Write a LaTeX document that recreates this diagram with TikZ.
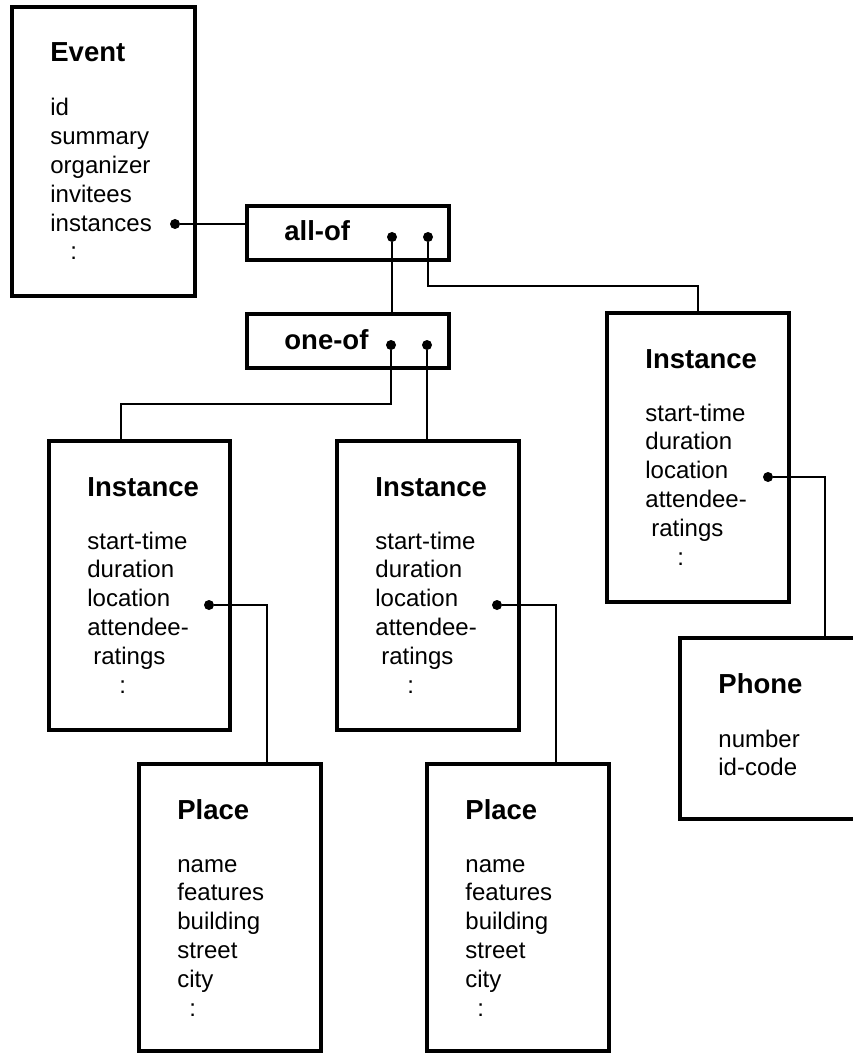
\documentclass[tikz,border=0pt]{standalone}
\usepackage{fontspec}
\setmainfont{Liberation Sans}
\usetikzlibrary{calc}

\tikzset{
  box/.style={draw, rectangle, line width=2pt, inner sep=0pt, outer sep=0pt, anchor=north west},
  tall/.style={minimum width=91pt, minimum height=144.5pt},
  flat/.style={minimum width=101pt, minimum height=27pt},
  ttl/.style={anchor=base west, inner sep=0pt, font=\fontsize{13.75}{16}\selectfont\bfseries},
  fields/.style={anchor=base west, inner sep=0pt, font=\fontsize{12}{14.4}\selectfont},
  dot/.style={circle, fill, inner sep=0pt, minimum size=5pt},
  link/.style={line width=1pt},
}
\newcommand{\flds}[1]{\begin{tabular}[t]{@{}l@{}}#1\end{tabular}}

\begin{document}
\begin{tikzpicture}[x=0.5pt,y=-0.5pt]
    \useasboundingbox (0,0) rectangle (852,1053);

    % boxes
    \node[box, tall, minimum width=91.5pt] (event) at (12,7) {};
    \node[box, flat] (allof) at (247,206) {};
    \node[box, flat] (oneof) at (247,314) {};
    \node[box, tall, minimum width=90.5pt] (inst1) at (49,441) {};
    \node[box, tall] (inst2) at (337,441) {};
    \node[box, tall] (inst3) at (607,313) {};
    \node[box, tall, minimum height=143.5pt] (place1) at (139,764) {};
    \node[box, tall, minimum height=143.5pt] (place2) at (427,764) {};
    \node[box, tall, minimum width=91.5pt, minimum height=90.5pt] (phone) at (680,638) {};

    % titles
    \node[ttl] (eventttl) at ($(event.north west)+(38,55)$) {Event};
    \node[ttl] (allofttl) at ($(allof.north west)+(37,35)$) {all-of};
    \node[ttl] (oneofttl) at ($(oneof.north west)+(37,36)$) {one-of};
    \node[ttl] (inst1ttl) at ($(inst1.north west)+(38,55)$) {Instance};
    \node[ttl] (inst2ttl) at ($(inst2.north west)+(38,55)$) {Instance};
    \node[ttl] (inst3ttl) at ($(inst3.north west)+(38,55)$) {Instance};
    \node[ttl] (place1ttl) at ($(place1.north west)+(38,55)$) {Place};
    \node[ttl] (place2ttl) at ($(place2.north west)+(38,55)$) {Place};
    \node[ttl] (phonettl) at ($(phone.north west)+(38,55)$) {Phone};

    % attributes
    \node[fields] (eventtxt) at ($(event.north west)+(38,109)$)
        {\flds{id\\ summary\\ organizer\\ invitees\\ instances\\ \hspace*{10pt}:}};
    \node[fields] (inst1txt) at ($(inst1.north west)+(38,108)$)
        {\flds{start-time\\ duration\\ location\\ attendee-\\ \hspace*{3pt}ratings\\ \hspace*{16pt}:}};
    \node[fields] (inst2txt) at ($(inst2.north west)+(38,108)$)
        {\flds{start-time\\ duration\\ location\\ attendee-\\ \hspace*{3pt}ratings\\ \hspace*{16pt}:}};
    \node[fields] (inst3txt) at ($(inst3.north west)+(38,108)$)
        {\flds{start-time\\ duration\\ location\\ attendee-\\ \hspace*{3pt}ratings\\ \hspace*{16pt}:}};
    \node[fields] (place1txt) at ($(place1.north west)+(38,108)$)
        {\flds{name\\ features\\ building\\ street\\ city\\ \hspace*{6pt}:}};
    \node[fields] (place2txt) at ($(place2.north west)+(38,108)$)
        {\flds{name\\ features\\ building\\ street\\ city\\ \hspace*{6pt}:}};
    \node[fields] (phonetxt) at ($(phone.north west)+(38,109)$)
        {\flds{number\\ id-code}};

    % dots
    \node[dot] (evdot) at ($(event.north west)+(163,217)$) {};
    \node[dot] (aodot1) at ($(allof.north west)+(145,31)$) {};
    \node[dot] (aodot2) at ($(allof.north west)+(181,31)$) {};
    \node[dot] (oodot1) at ($(oneof.north west)+(144,31)$) {};
    \node[dot] (oodot2) at ($(oneof.north west)+(180,31)$) {};
    \node[dot] (i1dot) at ($(inst1.north west)+(160,164)$) {};
    \node[dot] (i2dot) at ($(inst2.north west)+(160,164)$) {};
    \node[dot] (i3dot) at ($(inst3.north west)+(161,164)$) {};

    % where the links meet the boxes
    \coordinate (in1top) at ($(inst1.north west)+(72,0)$);
    \coordinate (pl1top) at ($(place1.north west)+(128,0)$);
    \coordinate (pl2top) at ($(place2.north west)+(129,0)$);
    \coordinate (phtop) at ($(phone.north west)+(145,0)$);

    % links
    \draw[link] (evdot) -- (evdot -| allof.west);
    \draw[link] (aodot1) -- (aodot1 |- oneof.north);
    \draw[link] (aodot2) |- ($(inst3.north)+(0,-27)$) -- (inst3.north);
    \draw[link] (oodot1) |- ($(in1top)+(0,-37)$) -- (in1top);
    \draw[link] (oodot2) -- (oodot2 |- inst2.north);
    \draw[link] (i1dot) -| (pl1top);
    \draw[link] (i2dot) -| (pl2top);
    \draw[link] (i3dot) -| (phtop);
\end{tikzpicture}
\end{document}
